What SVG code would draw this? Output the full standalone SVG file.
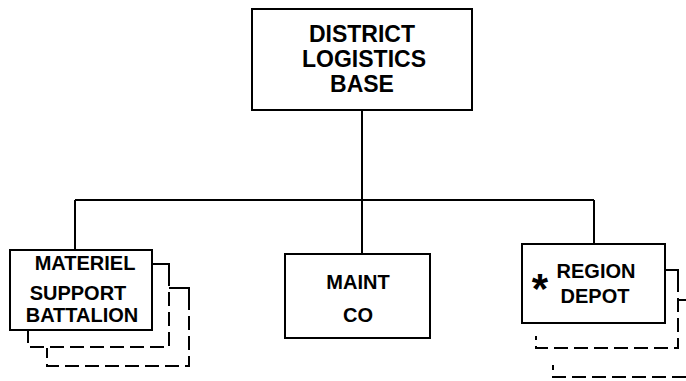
<svg xmlns="http://www.w3.org/2000/svg" width="686" height="381" viewBox="0 0 686 381">
<style>
.box{fill:#fff;stroke:#000;stroke-width:2}
.ln{fill:none;stroke:#000;stroke-width:2}
.dash{fill:none;stroke:#000;stroke-width:2;stroke-dasharray:14 6}
.t{font-family:"Liberation Sans",Arial,sans-serif;font-weight:bold;font-size:20px;text-anchor:middle;fill:#000}
.big{font-size:23px}
</style>
<rect width="686" height="381" fill="#fff"/>
<g id="connectors">
<path class="ln" d="M362 110V200M75 200H594M75 200V250M362 200V254M594 200V244"/>
</g>
<g id="district-logistics-base">
<rect class="box" x="252" y="9" width="220" height="101"/>
<text class="t big" x="362" y="42">DISTRICT</text>
<text class="t big" x="364" y="67">LOGISTICS</text>
<text class="t big" x="362" y="92">BASE</text>
</g>
<g id="materiel-support-battalion">
<path class="ln" d="M152 264H169V272"/>
<path class="dash" d="M169 272V347H28V331"/>
<path class="ln" d="M169 288H189V296"/>
<path class="dash" d="M189 296V366H47V348"/>
<rect class="box" x="10" y="250" width="142" height="80"/>
<text class="t" x="85" y="270">MATERIEL</text>
<text class="t" x="78" y="300">SUPPORT</text>
<text class="t" x="82" y="322">BATTALION</text>
</g>
<g id="maint-co">
<rect class="box" x="285" y="254" width="145" height="84"/>
<text class="t" x="358" y="289">MAINT</text>
<text class="t" x="358" y="322">CO</text>
</g>
<g id="region-depot">
<path class="ln" d="M665 270H678V278"/>
<path class="dash" d="M678 278V348H536V336"/>
<path class="ln" d="M678 300H686"/>
<path class="dash" d="M686 377H553V365"/>
<rect class="box" x="522" y="244" width="143" height="79"/>
<text class="t" x="540" y="303" style="font-size:42px">*</text>
<text class="t" x="596" y="278">REGION</text>
<text class="t" x="595" y="303">DEPOT</text>
</g>
</svg>
